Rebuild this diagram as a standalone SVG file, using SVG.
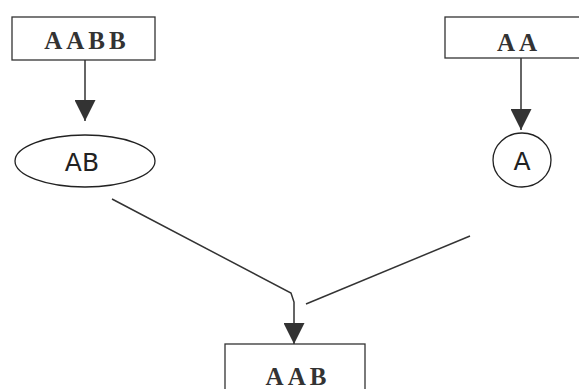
<svg xmlns="http://www.w3.org/2000/svg" width="579" height="389" viewBox="0 0 579 389">
<style>
.box{fill:#fff;stroke:#333;stroke-width:1.3}
.ell{fill:#fff;stroke:#222;stroke-width:1.3}
.t{font-family:"Liberation Serif",serif;font-weight:bold;font-size:25px;fill:#333;letter-spacing:4px;text-anchor:middle}
.h{font-family:"DejaVu Sans",sans-serif;font-size:25px;fill:#222;text-anchor:middle}
.c{fill:none;stroke:#333;stroke-width:1.5}
</style>
<defs>
<marker id="ah" viewBox="0 0 10 10" refX="10" refY="5" markerWidth="21" markerHeight="21" markerUnits="userSpaceOnUse" orient="auto"><path d="M0,0 L10,5 L0,10 Z" fill="#333"/></marker>
</defs>
<rect width="579" height="389" fill="#fff"/>
<g id="connectors">
<line class="c" x1="85" y1="60" x2="85" y2="121" marker-end="url(#ah)"/>
<line class="c" x1="521" y1="58" x2="521" y2="130" marker-end="url(#ah)"/>
<polyline class="c" points="112,199 291,293 294,302 294,344" marker-end="url(#ah)"/>
<line class="c" x1="470" y1="236" x2="306" y2="304"/>
</g>
<g id="AABB"><rect class="box" x="12" y="17" width="143" height="43"/><text class="t" x="87" y="49">AABB</text></g>
<g id="AA"><rect class="box" x="445" y="17" width="140" height="41"/><text class="t" x="519" y="51">AA</text></g>
<g id="AB"><ellipse class="ell" cx="85" cy="161" rx="70" ry="26"/><text class="h" x="82" y="171">AB</text></g>
<g id="A"><ellipse class="ell" cx="522" cy="160" rx="29" ry="27"/><text class="h" x="522" y="170">A</text></g>
<g id="AAB"><rect class="box" x="225" y="344" width="140" height="50"/><text class="t" x="298" y="385">AAB</text></g>
</svg>
